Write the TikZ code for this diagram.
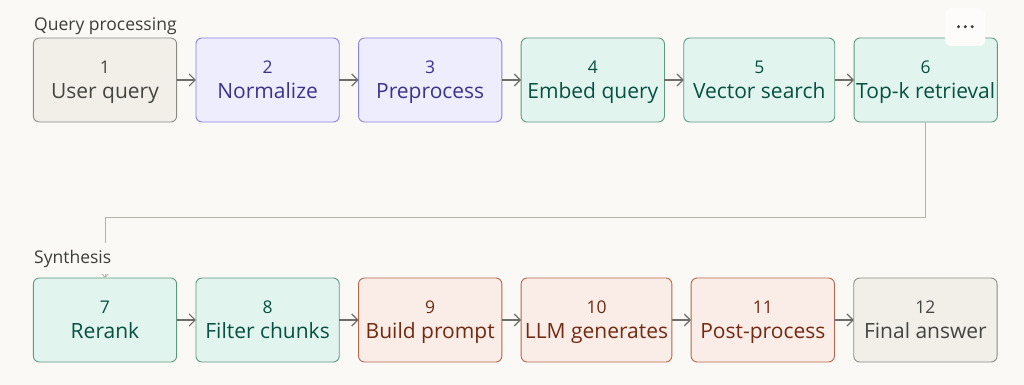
\documentclass[tikz,border=0pt]{standalone}
\usepackage{fontspec}
\setmainfont{Open Sans}
\usepackage{xcolor}
\usetikzlibrary{arrows.meta,positioning}

\definecolor{bg}{HTML}{FAF9F5}
\definecolor{grayfill}{HTML}{F1EFE8}
\definecolor{grayline}{HTML}{8C8B85}
\definecolor{graytext}{HTML}{444441}
\definecolor{purplefill}{HTML}{EEEDFE}
\definecolor{purpleline}{HTML}{8A82E0}
\definecolor{purpletext}{HTML}{3C3489}
\definecolor{tealfill}{HTML}{E1F5EE}
\definecolor{tealline}{HTML}{5E9A82}
\definecolor{tealtext}{HTML}{085041}
\definecolor{coralfill}{HTML}{FAECE7}
\definecolor{coralline}{HTML}{B5654A}
\definecolor{coraltext}{HTML}{712B13}
\definecolor{arrowc}{HTML}{6E6D68}
\definecolor{linkc}{HTML}{B4B2AB}
\definecolor{titlec}{HTML}{3D3D3A}

\newcommand{\nr}[1]{{\fontsize{17.5}{25}\selectfont #1}}

\begin{document}
\begin{tikzpicture}[x=1pt,y=-1pt,
  stage/.style={draw,rounded corners=6pt,line width=0.9pt,outer sep=0pt,minimum width=143.3pt,
    minimum height=84pt,inner xsep=1pt,align=center,text depth=0pt,
    font=\fontsize{21}{25}\selectfont},
  stgray/.style={stage,fill=grayfill,draw=grayline,text=graytext},
  stpurple/.style={stage,fill=purplefill,draw=purpleline,text=purpletext},
  stteal/.style={stage,fill=tealfill,draw=tealline,text=tealtext},
  stcoral/.style={stage,fill=coralfill,draw=coralline,text=coraltext},
  flow/.style={-{Straight Barb[length=6pt,width=12pt]},line width=1.2pt,draw=arrowc},
  link/.style={-{Straight Barb[length=4pt,width=7pt]},line width=0.9pt,draw=linkc},
  section/.style={font=\fontsize{17.5}{22}\selectfont,text=titlec,inner sep=0pt,anchor=base west}]
  \fill[bg] (0,0) rectangle (1024,385);
  \useasboundingbox (0,0) rectangle (1024,385);
  % query processing
  \node[section] (qp) at (34,31) {Query processing};
  \node[stgray] (n1) at (105,80) {\nr{1}\\User query};
  \node[stpurple,right=19.3pt of n1] (n2) {\nr{2}\\Normalize};
  \node[stpurple,right=19.3pt of n2] (n3) {\nr{3}\\Preprocess};
  \node[stteal,right=19.3pt of n3] (n4) {\nr{4}\\Embed query};
  \node[stteal,right=19.3pt of n4,minimum width=151pt] (n5) {\nr{5}\\Vector search};
  \node[stteal,right=19.3pt of n5] (n6) {\nr{6}\\Top-k retrieval};
  \draw[flow] (n1) -- (n2);
  \draw[flow] (n2) -- (n3);
  \draw[flow] (n3) -- (n4);
  \draw[flow] (n4) -- (n5);
  \draw[flow] (n5) -- (n6);
  % synthesis
  \node[stteal] (n7) at (105,320) {\nr{7}\\Rerank};
  \node[stteal,right=19.3pt of n7] (n8) {\nr{8}\\Filter chunks};
  \node[stcoral,right=19.3pt of n8] (n9) {\nr{9}\\Build prompt};
  \node[stcoral,right=19.3pt of n9,minimum width=150.7pt] (n10) {\nr{10}\\LLM generates};
  \node[stcoral,right=19.3pt of n10] (n11) {\nr{11}\\Post-process};
  \node[stgray,right=19.3pt of n11] (n12) {\nr{12}\\Final answer};
  \draw[flow] (n7) -- (n8);
  \draw[flow] (n8) -- (n9);
  \draw[flow] (n9) -- (n10);
  \draw[flow] (n10) -- (n11);
  \draw[flow] (n11) -- (n12);
  \draw[link] (n6.south) -- ++(0,95.7) -| (n7.north);
  \node[section,fill=bg,inner xsep=2pt,inner ysep=7pt] (syn) at (32,263) {Synthesis};
  % menu button
  \fill[white!55!bg,rounded corners=6pt] (945,8) rectangle (985,46);
  \foreach \x in {958.5,965.3,972.2}
    \fill[titlec] (\x,26.7) circle (1.7);
\end{tikzpicture}
\end{document}
